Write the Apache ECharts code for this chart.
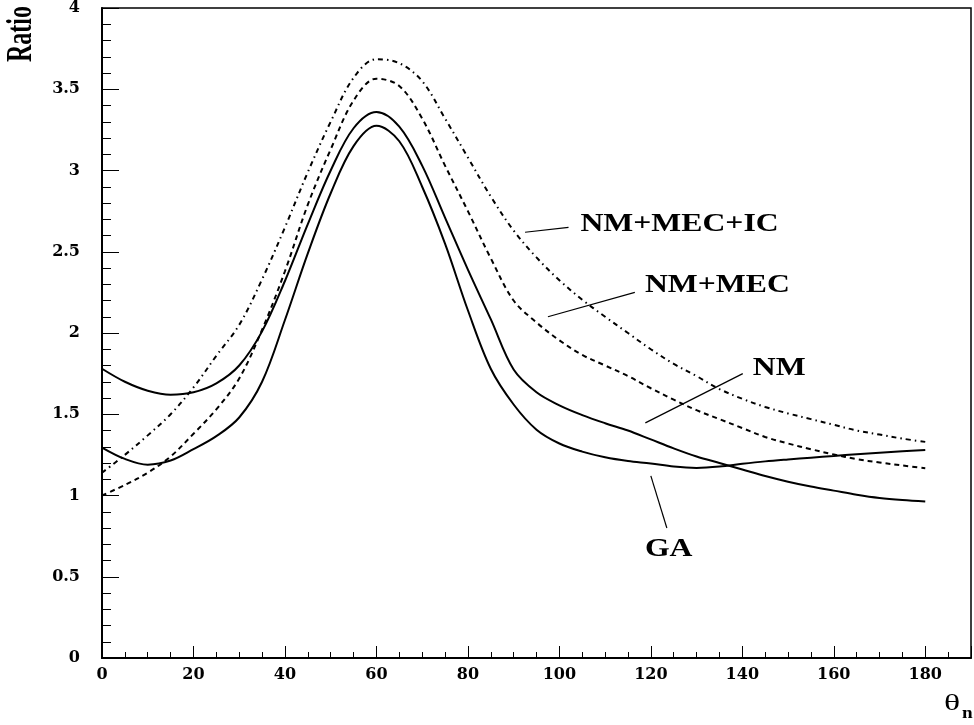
<!DOCTYPE html>
<html>
<head>
<meta charset="utf-8">
<script src="https://cdn.jsdelivr.net/npm/echarts@6/dist/echarts.min.js"></script>
<style>
  html, body { margin: 0; padding: 0; background: #fff; }
  #chart { width: 974px; height: 725px; }
</style>
</head>
<body>
<div id="chart"></div>
<script>
// angle of the neutron, degrees
const theta = [0, 5, 10, 15, 20, 25, 30, 35, 40, 45, 50, 55, 60, 65, 70, 75, 80, 85, 90,
  95, 100, 105, 110, 115, 120, 125, 130, 135, 140, 145, 150, 155, 160, 165, 170, 175, 180];

const nm = [1.78, 1.70, 1.645, 1.62, 1.635, 1.69, 1.80, 2.01, 2.32, 2.67, 3.00, 3.26, 3.36, 3.27, 3.03, 2.71, 2.39, 2.085, 1.775,
  1.635, 1.555, 1.495, 1.445, 1.40, 1.345, 1.29, 1.24, 1.20, 1.16, 1.12, 1.085, 1.055, 1.03, 1.005, 0.985, 0.972, 0.963];
const ga = [1.295, 1.225, 1.19, 1.215, 1.285, 1.365, 1.48, 1.70, 2.08, 2.49, 2.86, 3.15, 3.275, 3.18, 2.90, 2.55, 2.14, 1.78, 1.56,
  1.405, 1.32, 1.27, 1.235, 1.212, 1.197, 1.178, 1.17, 1.178, 1.195, 1.21, 1.222, 1.233, 1.243, 1.254, 1.263, 1.272, 1.28];
const nmMec = [1.0, 1.065, 1.14, 1.24, 1.38, 1.53, 1.72, 2.02, 2.38, 2.79, 3.13, 3.43, 3.565, 3.52, 3.32, 3.03, 2.75, 2.46, 2.20,
  2.065, 1.955, 1.865, 1.80, 1.735, 1.66, 1.59, 1.525, 1.47, 1.415, 1.36, 1.32, 1.285, 1.252, 1.224, 1.203, 1.185, 1.168];
const nmMecIc = [1.14, 1.25, 1.37, 1.50, 1.665, 1.86, 2.05, 2.33, 2.65, 2.99, 3.30, 3.57, 3.685, 3.66, 3.55, 3.32, 3.08, 2.84, 2.63,
  2.465, 2.325, 2.205, 2.10, 2.00, 1.90, 1.81, 1.735, 1.655, 1.595, 1.545, 1.505, 1.47, 1.435, 1.40, 1.375, 1.35, 1.33];

// curve labels and their pointer lines, in data coordinates
const labelNames = ['NM+MEC+IC', 'NM+MEC', 'NM', 'GA'];
const labelAt = [[104.6, 2.667], [118.7, 2.295], [142.3, 1.785], [123.9, 0.672]];
const labelAlign = ['left', 'left', 'left', 'center'];
const pointerFrom = [[92.5, 2.62], [97.5, 2.10], [118.8, 1.447], [120.0, 1.121]];
const pointerTo = [[102.0, 2.65], [116.5, 2.25], [140.1, 1.75], [123.5, 0.80]];

const chart = echarts.init(document.getElementById('chart'));

const tickFont = { fontFamily: 'DejaVu Serif', fontWeight: 'bold', fontSize: 16, color: '#000' };
const pair = ys => theta.map((t, i) => [t, ys[i]]);
const curve = (name, ys, type) => ({
  name: name,
  type: 'line',
  data: pair(ys),
  symbol: 'none',
  smooth: 0.35,
  xAxisIndex: 0,
  yAxisIndex: 0,
  lineStyle: { color: '#000', width: 2, type: type }
});

chart.setOption({
  animation: false,
  grid: { left: 102, top: 5, right: 2, bottom: 67, show: true, borderColor: '#000', borderWidth: 1.5 },
  xAxis: [
    {
      type: 'value', min: 0, max: 190, interval: 5,
      axisLine: { lineStyle: { color: '#000', width: 2 } },
      axisTick: { inside: true, length: 6, lineStyle: { color: '#000' } },
      splitLine: { show: false },
      axisLabel: Object.assign({}, tickFont, {
        margin: 9,
        formatter: v => (v % 20 === 0 && v <= 180) ? String(v) : ''
      })
    },
    {
      type: 'value', min: 0, max: 190, interval: 20, position: 'bottom',
      axisLine: { show: false },
      axisTick: { inside: true, length: 12, lineStyle: { color: '#000' } },
      axisLabel: { show: false },
      splitLine: { show: false }
    }
  ],
  yAxis: {
    type: 'value', min: 0, max: 4, interval: 0.5,
    axisLine: { lineStyle: { color: '#000', width: 2 } },
    axisTick: { inside: true, length: 17, lineStyle: { color: '#000' } },
    minorTick: { show: true, splitNumber: 5, length: 9, lineStyle: { color: '#000' } },
    splitLine: { show: false },
    minorSplitLine: { show: false },
    axisLabel: Object.assign({}, tickFont, { margin: 22 })
  },
  series: [
    curve('NM', nm, 'solid'),
    curve('GA', ga, 'solid'),
    curve('NM+MEC', nmMec, [5, 4]),
    curve('NM+MEC+IC', nmMecIc, [5, 4, 1.5, 4])
  ]
});

const px = p => chart.convertToPixel({ xAxisIndex: 0, yAxisIndex: 0 }, p);
const graphics = [];
labelNames.forEach((name, i) => {
  const a = px(pointerFrom[i]);
  const b = px(pointerTo[i]);
  graphics.push({
    type: 'line',
    shape: { x1: a[0], y1: a[1], x2: b[0], y2: b[1] },
    style: { stroke: '#000', lineWidth: 1.2 }
  });
  const t = px(labelAt[i]);
  graphics.push({
    type: 'text',
    x: t[0], y: t[1],
    scaleX: 1.22,
    style: {
      text: name,
      font: 'bold 26px "Liberation Serif"',
      fill: '#000',
      align: labelAlign[i],
      verticalAlign: 'middle'
    }
  });
});
graphics.push({
  type: 'text', x: 22, y: 34, rotation: Math.PI / 2, scaleY: 1.45,
  style: { text: 'Ratio', font: 'bold 24px "Liberation Serif"', fill: '#000', align: 'center', verticalAlign: 'middle' }
});
graphics.push({
  type: 'text', x: 944, y: 704, scaleX: 1.4,
  style: { text: 'θ', font: '24px "Liberation Serif"', fill: '#000', align: 'left', verticalAlign: 'middle' }
});
graphics.push({
  type: 'text', x: 962, y: 714, scaleX: 1.2,
  style: { text: 'n', font: 'bold 16px "Liberation Serif"', fill: '#000', align: 'left', verticalAlign: 'middle' }
});
chart.setOption({ graphic: graphics });
</script>
</body>
</html>
